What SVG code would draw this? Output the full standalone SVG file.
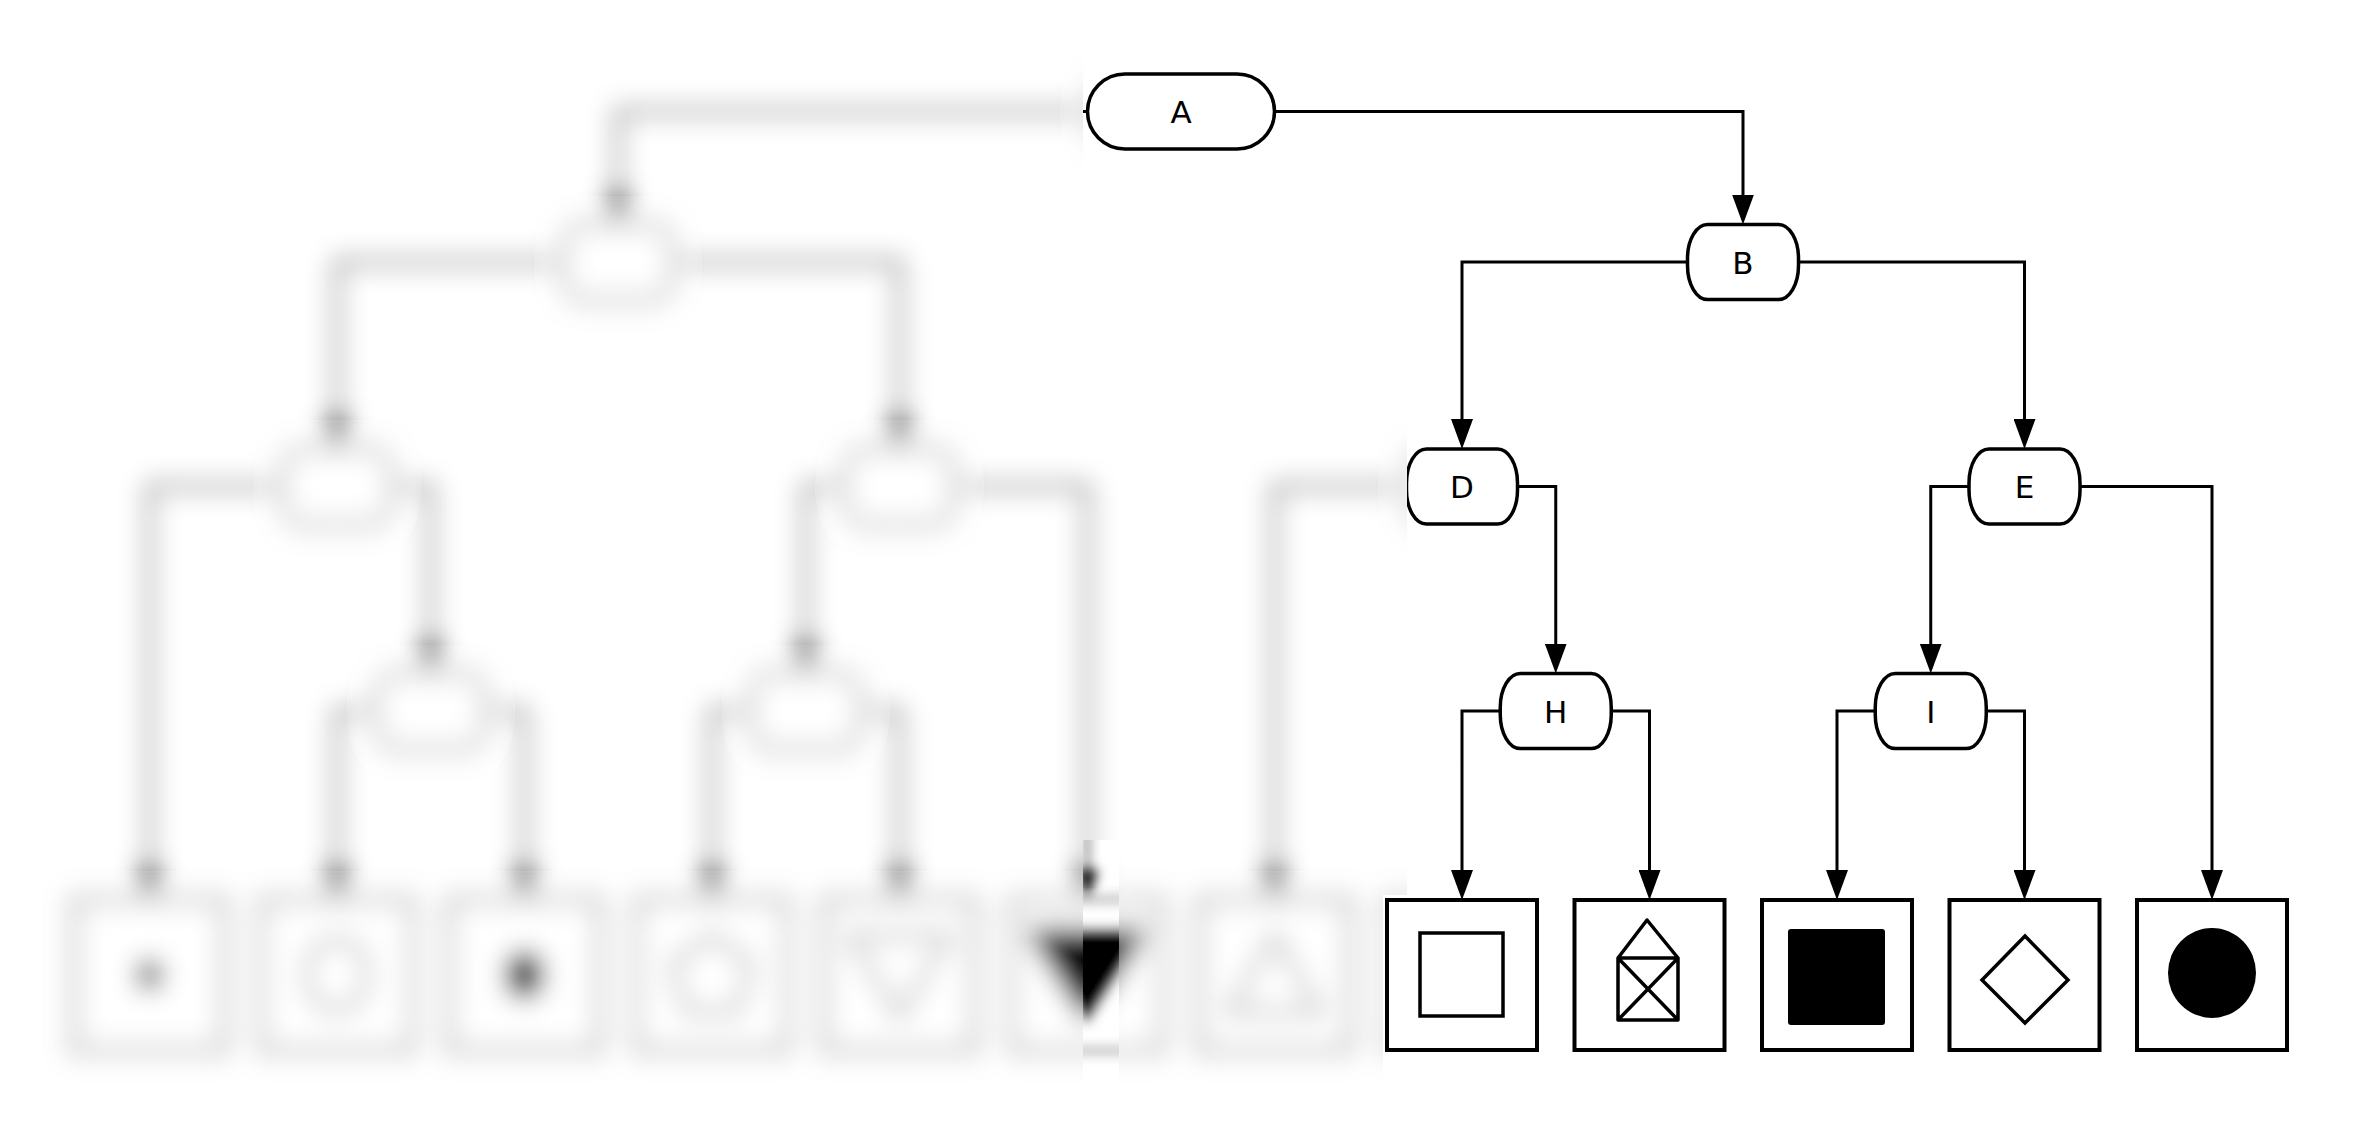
<svg xmlns="http://www.w3.org/2000/svg" xmlns:xlink="http://www.w3.org/1999/xlink" width="2363" height="1125" viewBox="0 0 2363 1125">
<style>
.edge{fill:none;stroke:#000;stroke-width:3;marker-end:url(#arr)}
.nd{fill:#fff;stroke:#000;stroke-width:3.5}
.box{fill:#fff;stroke:#000;stroke-width:4}
.ol{fill:none;stroke:#000;stroke-width:3.5}
.fl{fill:#000;stroke:none}
.lbl{font-family:"DejaVu Sans",sans-serif;font-size:31px;fill:#000;text-anchor:middle}
</style>
<defs>
<marker id="arr" markerUnits="userSpaceOnUse" markerWidth="30" markerHeight="22" refX="25" refY="11" orient="auto">
<path d="M0,0 L30,11 L0,22 z" fill="#000"/>
</marker>
<filter id="b13" filterUnits="userSpaceOnUse" x="0" y="0" width="2363" height="1125"><feGaussianBlur stdDeviation="13"/></filter>
<filter id="b5" filterUnits="userSpaceOnUse" x="0" y="0" width="2363" height="1125"><feGaussianBlur stdDeviation="6"/></filter>
<clipPath id="sharpClip">
<rect x="1083" y="0" width="1280" height="400"/>
<rect x="1407" y="400" width="956" height="495"/>
<rect x="1383" y="895" width="980" height="230"/>
</clipPath>
<clipPath id="blurClip">
<rect x="0" y="0" width="1083" height="1125"/>
<rect x="1083" y="400" width="324" height="440"/>
<rect x="1119" y="840" width="288" height="55"/>
<rect x="1119" y="895" width="264" height="230"/>
</clipPath>
<clipPath id="stripClip">
<rect x="1083" y="840" width="36" height="285"/>
</clipPath>
</defs>
<rect x="0" y="0" width="2363" height="1125" fill="#fff"/>
<g clip-path="url(#sharpClip)">
<g id="diagram">
<g id="connectors">
<path class="edge" d="M1087.5,111.5 H618 V219.5"/>
<path class="edge" d="M1274.5,111.5 H1743 V219.5"/>
<path class="edge" d="M1687.5,262 H1462 V444"/>
<path class="edge" d="M1798.5,262 H2024.5 V444"/>
<path class="edge" d="M562.5,262 H337 V444"/>
<path class="edge" d="M673.5,262 H899.5 V444"/>
<path class="edge" d="M1406.5,486.5 H1274.5 V895"/>
<path class="edge" d="M1517.5,486.5 H1555.75 V668.5"/>
<path class="edge" d="M1969,486.5 H1930.75 V668.5"/>
<path class="edge" d="M2080,486.5 H2212 V895"/>
<path class="edge" d="M281.5,486.5 H149.5 V895"/>
<path class="edge" d="M392.5,486.5 H430.75 V668.5"/>
<path class="edge" d="M844,486.5 H805.75 V668.5"/>
<path class="edge" d="M955,486.5 H1087 V895"/>
<path class="edge" d="M1500.25,711 H1462 V895"/>
<path class="edge" d="M1611.25,711 H1649.5 V895"/>
<path class="edge" d="M1875.25,711 H1837 V895"/>
<path class="edge" d="M1986.25,711 H2024.5 V895"/>
<path class="edge" d="M375.25,711 H337 V895"/>
<path class="edge" d="M486.25,711 H524.5 V895"/>
<path class="edge" d="M750.25,711 H712 V895"/>
<path class="edge" d="M861.25,711 H899.5 V895"/>
</g>
<g id="node-A"><rect class="nd" x="1087.5" y="74" width="187" height="75" rx="37.5" ry="37.5"/><text class="lbl" x="1181" y="123">A</text></g>
<g id="node-B"><rect class="nd" x="1687.5" y="224.5" width="111" height="75" rx="20" ry="34"/><text class="lbl" x="1743" y="273.5">B</text></g>
<g id="node-C"><rect class="nd" x="562.5" y="224.5" width="111" height="75" rx="20" ry="34"/></g>
<g id="node-D"><rect class="nd" x="1406.5" y="449" width="111" height="75" rx="20" ry="34"/><text class="lbl" x="1462" y="498">D</text></g>
<g id="node-E"><rect class="nd" x="1969" y="449" width="111" height="75" rx="20" ry="34"/><text class="lbl" x="2024.5" y="498">E</text></g>
<g id="node-F"><rect class="nd" x="281.5" y="449" width="111" height="75" rx="20" ry="34"/></g>
<g id="node-G"><rect class="nd" x="844" y="449" width="111" height="75" rx="20" ry="34"/></g>
<g id="node-H"><rect class="nd" x="1500.25" y="673.5" width="111" height="75" rx="20" ry="34"/><text class="lbl" x="1555.75" y="722.5">H</text></g>
<g id="node-I"><rect class="nd" x="1875.25" y="673.5" width="111" height="75" rx="20" ry="34"/><text class="lbl" x="1930.75" y="722.5">I</text></g>
<g id="node-J"><rect class="nd" x="375.25" y="673.5" width="111" height="75" rx="20" ry="34"/></g>
<g id="node-K"><rect class="nd" x="750.25" y="673.5" width="111" height="75" rx="20" ry="34"/></g>
<g id="leaf-1"><rect class="box" x="74.5" y="900" width="150" height="150"/><ellipse class="fl" cx="149.5" cy="975" rx="12" ry="15"/></g>
<g id="leaf-2"><rect class="box" x="262" y="900" width="150" height="150"/><ellipse class="ol" cx="337" cy="975" rx="30" ry="36"/></g>
<g id="leaf-3"><rect class="box" x="449.5" y="900" width="150" height="150"/><ellipse class="fl" cx="524.5" cy="975" rx="19" ry="24"/></g>
<g id="leaf-4"><rect class="box" x="637" y="900" width="150" height="150"/><polygon class="ol" points="712,935 752,964 737,1012 687,1012 672,964"/></g>
<g id="leaf-5"><rect class="box" x="824.5" y="900" width="150" height="150"/><polygon class="ol" points="850,936 949,936 899.5,1017"/></g>
<g id="leaf-6"><rect class="box" x="1012" y="900" width="150" height="150"/><polygon class="fl" points="1025,928 1149,928 1087,1025"/></g>
<g id="leaf-7"><rect class="box" x="1199.5" y="900" width="150" height="150"/><polygon class="ol" points="1274.5,935 1320,1012 1229,1012"/></g>
<g id="leaf-8"><rect class="box" x="1387" y="900" width="150" height="150"/><rect class="ol" x="1420" y="933" width="83" height="83" stroke-width="4"/></g>
<g id="leaf-9"><rect class="box" x="1574.5" y="900" width="150" height="150"/><path class="ol" stroke-width="3" stroke-linejoin="round" d="M1618,958 L1647,920 L1678,958 Z M1618,958 H1678 V1020 H1618 Z M1618,958 L1678,1020 M1678,958 L1618,1020"/></g>
<g id="leaf-10"><rect class="box" x="1762" y="900" width="150" height="150"/><rect class="fl" x="1788" y="929" width="97" height="96" rx="3"/></g>
<g id="leaf-11"><rect class="box" x="1949.5" y="900" width="150" height="150"/><polygon class="ol" points="2025,936 2068,980 2025,1023 1982,980"/></g>
<g id="leaf-12"><rect class="box" x="2137" y="900" width="150" height="150"/><ellipse class="fl" cx="2212" cy="973" rx="44" ry="45"/></g>
</g>
</g>
<g clip-path="url(#blurClip)"><use xlink:href="#diagram" href="#diagram" filter="url(#b13)"/></g>
<g clip-path="url(#stripClip)"><use xlink:href="#diagram" href="#diagram" filter="url(#b5)"/></g>
</svg>
